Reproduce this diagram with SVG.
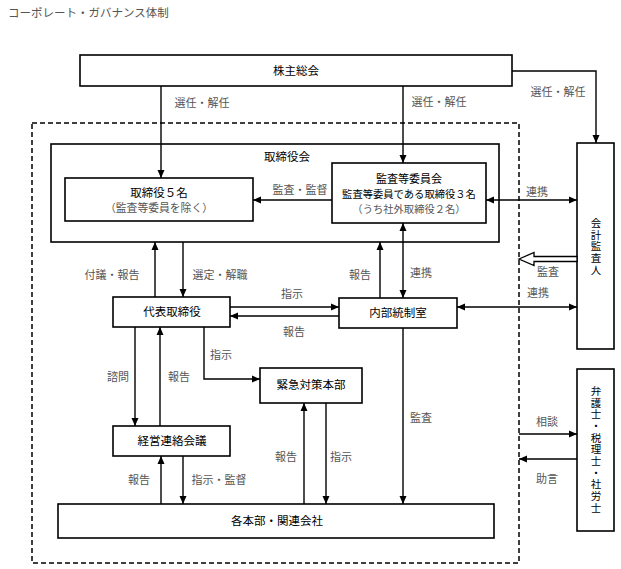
<svg xmlns="http://www.w3.org/2000/svg" width="621" height="569" viewBox="0 0 621 569">
<defs>
<marker id="ah" markerUnits="userSpaceOnUse" markerWidth="8" markerHeight="8" viewBox="0 0 8 8" refX="8" refY="4" orient="auto-start-reverse">
<path d="M0,0.5 L8,4 L0,7.5 Z" fill="#000"/>
</marker>
<style>
.box{fill:#fff;stroke:#000;stroke-width:1.6}
.ln{fill:none;stroke:#000;stroke-width:1.4}
.n{font-family:"Noto Sans CJK JP","Noto Sans",sans-serif;font-size:11.5px;fill:#000;text-anchor:middle}
.v{font-family:"Noto Sans CJK JP","Noto Sans",sans-serif;font-size:10.5px;letter-spacing:1.2px;fill:#000;text-anchor:middle;writing-mode:vertical-rl}
.s{font-family:"Noto Sans CJK JP","Noto Sans",sans-serif;font-size:10.8px;fill:#555;text-anchor:middle}
.l{font-family:"Noto Sans CJK JP","Noto Sans",sans-serif;font-size:11px;fill:#555;text-anchor:middle}
</style>
</defs>
<rect width="621" height="569" fill="#fff"/>
<text x="8" y="17" style="font-family:'Noto Sans CJK JP',sans-serif;font-size:11.5px;fill:#555">コーポレート・ガバナンス体制</text>

<rect x="32" y="123" width="487" height="440" fill="none" stroke="#000" stroke-width="1.5" stroke-dasharray="5,3"/>

<g id="kabunushi"><rect class="box" x="80" y="55" width="432" height="31"/><text class="n" x="296" y="75">株主総会</text></g>
<g id="torishimariyakukai"><rect class="box" x="51" y="144" width="448" height="98"/><text class="n" x="287" y="161">取締役会</text></g>
<g id="torishimariyaku5"><rect class="box" x="65" y="178" width="188" height="43"/><text class="n" x="159" y="197">取締役５名</text><text class="s" x="159" y="212">（監査等委員を除く）</text></g>
<g id="kansa"><rect class="box" x="332" y="163" width="154" height="60"/><text class="n" x="409" y="182.5" style="font-size:11px">監査等委員会</text><text class="n" x="409" y="197.5" style="font-size:10.3px">監査等委員である取締役３名</text><text class="s" x="409" y="212.5" style="font-size:10.3px">（うち社外取締役２名）</text></g>
<g id="kaikei"><rect class="box" x="577" y="143" width="37" height="206"/><text class="v" x="596" y="247">会計監査人</text></g>
<g id="daihyo"><rect class="box" x="113" y="297" width="117" height="30"/><text class="n" x="172" y="316">代表取締役</text></g>
<g id="naibu"><rect class="box" x="339" y="298" width="118" height="30"/><text class="n" x="398" y="317">内部統制室</text></g>
<g id="kinkyu"><rect class="box" x="260" y="368" width="102" height="35"/><text class="n" x="311" y="389">緊急対策本部</text></g>
<g id="keiei"><rect class="box" x="113" y="426" width="117" height="30"/><text class="n" x="172" y="445">経営連絡会議</text></g>
<g id="kakuhonbu"><rect class="box" x="58" y="504" width="436" height="34"/><text class="n" x="277" y="525">各本部・関連会社</text></g>
<g id="bengoshi"><rect class="box" x="577" y="369" width="37" height="162"/><text class="v" x="596" y="450">弁護士・税理士・社労士</text></g>

<g id="connectors">
<path class="ln" d="M161,86 V178" marker-end="url(#ah)"/>
<path class="ln" d="M403,86 V163" marker-end="url(#ah)"/>
<path class="ln" d="M512,71 H596 V143" marker-end="url(#ah)"/>
<path class="ln" d="M332,200 H253" marker-end="url(#ah)"/>
<path class="ln" d="M486,200 H577" marker-start="url(#ah)" marker-end="url(#ah)"/>
<polygon points="519,259 534,252.5 534,256.5 577,256.5 577,261.5 534,261.5 534,265.5" fill="#fff" stroke="#000" stroke-width="1.3"/>
<path class="ln" d="M457,307 H577" marker-start="url(#ah)" marker-end="url(#ah)"/>
<path class="ln" d="M380,298 V242" marker-end="url(#ah)"/>
<path class="ln" d="M403,223 V298" marker-start="url(#ah)" marker-end="url(#ah)"/>
<path class="ln" d="M403,328 V504" marker-end="url(#ah)"/>
<path class="ln" d="M155,297 V242" marker-end="url(#ah)"/>
<path class="ln" d="M183,242 V297" marker-end="url(#ah)"/>
<path class="ln" d="M230,307 H339" marker-end="url(#ah)"/>
<path class="ln" d="M339,316 H230" marker-end="url(#ah)"/>
<path class="ln" d="M204,327 V379 H260" marker-end="url(#ah)"/>
<path class="ln" d="M135,327 V426" marker-end="url(#ah)"/>
<path class="ln" d="M160,426 V327" marker-end="url(#ah)"/>
<path class="ln" d="M161,504 V456" marker-end="url(#ah)"/>
<path class="ln" d="M183,456 V504" marker-end="url(#ah)"/>
<path class="ln" d="M304,504 V403" marker-end="url(#ah)"/>
<path class="ln" d="M326,403 V504" marker-end="url(#ah)"/>
<path class="ln" d="M519,434 H577" marker-end="url(#ah)"/>
<path class="ln" d="M577,459 H519" marker-end="url(#ah)"/>

<text class="l" x="202" y="107">選任・解任</text>
<text class="l" x="439" y="106">選任・解任</text>
<text class="l" x="558" y="96">選任・解任</text>
<text class="l" x="300" y="194">監査・監督</text>
<text class="l" x="537" y="196">連携</text>
<text class="l" x="548" y="276">監査</text>
<text class="l" x="538" y="297">連携</text>
<text class="l" x="360" y="279">報告</text>
<text class="l" x="421" y="277">連携</text>
<text class="l" x="112" y="279">付議・報告</text>
<text class="l" x="220" y="279">選定・解職</text>
<text class="l" x="292" y="298">指示</text>
<text class="l" x="294" y="336">報告</text>
<text class="l" x="221" y="359">指示</text>
<text class="l" x="118" y="381">諮問</text>
<text class="l" x="179" y="381">報告</text>
<text class="l" x="421" y="422">監査</text>
<text class="l" x="139" y="484">報告</text>
<text class="l" x="219" y="484">指示・監督</text>
<text class="l" x="286" y="461">報告</text>
<text class="l" x="341" y="461">指示</text>
<text class="l" x="547" y="426">相談</text>
<text class="l" x="547" y="483">助言</text>
</g>
</svg>
